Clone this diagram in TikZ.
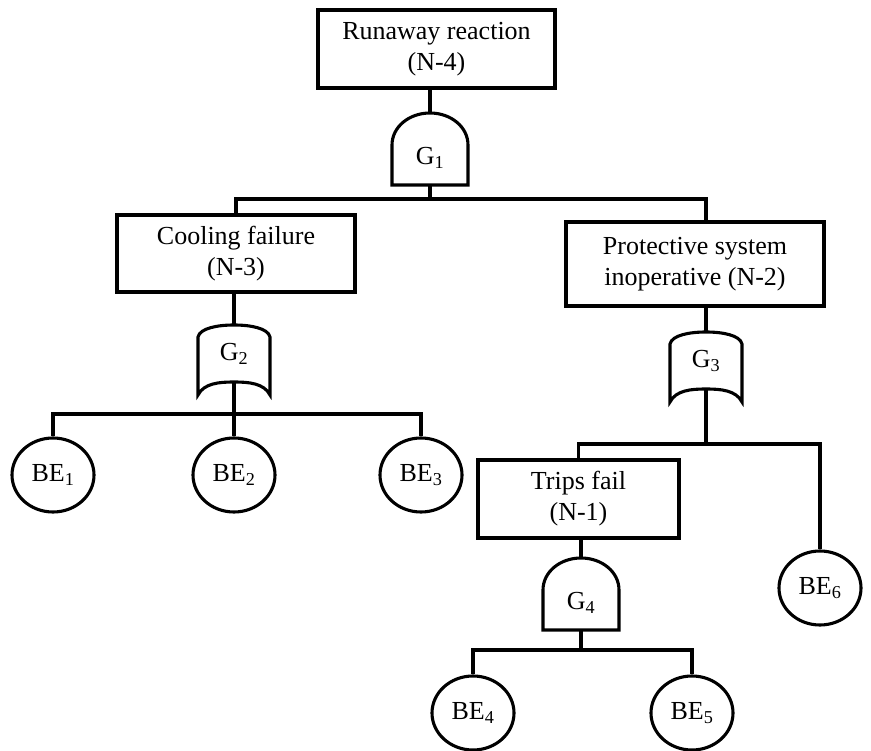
\documentclass[tikz,border=0pt]{standalone}
\usepackage{fontspec}
\setmainfont{Liberation Serif}
\usetikzlibrary{shapes.geometric,calc}
\tikzset{
  ln/.style={line width=3.1pt, line join=miter},
  evbox/.style={ln, draw, rectangle, align=center, inner sep=0pt, font=\fontsize{26}{31}\selectfont},
  bevent/.style={ln, draw, ellipse, inner sep=0pt, minimum width=82pt, minimum height=74pt, font=\fontsize{26}{31}\selectfont},
  glabel/.style={inner sep=0pt, font=\fontsize{26}{31}\selectfont}
}
\newcommand\andgate[4]{% name, cx, ytop, label
  \begin{scope}[shift={(#2,#3)}]
    \draw[ln] (-38,72) -- (-38,32) .. controls (-38,14) and (-21,0) .. (0,0)
      .. controls (21,0) and (38,14) .. (38,32) -- (38,72) -- cycle;
    \coordinate (#1-in) at (0,0);
    \coordinate (#1-out) at (0,72);
    \node[glabel] (#1) at (0,45) {#4};
  \end{scope}}
\newcommand\orgate[4]{% name, cx, ytop, label
  \begin{scope}[shift={(#2,#3)}]
    \draw[ln] (-36,12) .. controls (-34,3) and (-16,0) .. (0,0)
      .. controls (16,0) and (34,3) .. (36,12) -- (36,70)
      .. controls (30,58) and (14,57) .. (0,57)
      .. controls (-14,57) and (-30,58) .. (-36,70) -- cycle;
    \coordinate (#1-in) at (0,0);
    \coordinate (#1-out) at (0,57);
    \node[glabel] (#1) at (0,29) {#4};
  \end{scope}}
\begin{document}
\begin{tikzpicture}[x=1pt,y=-1pt]
\useasboundingbox (0,0) rectangle (871,751);
% event boxes
\node[evbox, minimum width=237pt, minimum height=78pt] (top) at (436.5,49) {Runaway reaction\\(N-4)};
\node[evbox, minimum width=238pt, minimum height=77pt] (cool) at (236,253.5) {Cooling failure\\(N-3)};
\node[evbox, minimum width=258pt, minimum height=84pt] (prot) at (695,264) {Protective system\\inoperative (N-2)};
\node[evbox, minimum width=201pt, minimum height=78pt] (trips) at (578.5,499) {Trips fail\\(N-1)};
% gates
\andgate{g1}{430}{113}{G\textsubscript{1}}
\orgate{g2}{234}{325}{G\textsubscript{2}}
\orgate{g3}{706}{332}{G\textsubscript{3}}
\andgate{g4}{581}{558}{G\textsubscript{4}}
% basic events
\node[bevent] (be1) at (53,475) {BE\textsubscript{1}};
\node[bevent] (be2) at (234,475) {BE\textsubscript{2}};
\node[bevent] (be3) at (421,475) {BE\textsubscript{3}};
\node[bevent] (be6) at (820,588) {BE\textsubscript{6}};
\node[bevent] (be4) at (473,713) {BE\textsubscript{4}};
\node[bevent] (be5) at (692,713) {BE\textsubscript{5}};
% junctions
\coordinate (b1) at (430,199);
\coordinate (b2) at (234,414);
\coordinate (b3) at (706,444);
\coordinate (b4) at (581,650);
% connectors
\draw[ln] (g1-in |- top.south) -- (g1-in);
\draw[ln] (g1-out) -- (b1);
\draw[ln] (cool.north) |- (b1) -| (prot.north -| g3-in);
\draw[ln] (g2-in |- cool.south) -- (g2-in);
\draw[ln] (g2-out) -- (be2.north);
\draw[ln] (be1.north) |- (b2) -| (be3.north);
\draw[ln] (g3-in |- prot.south) -- (g3-in);
\draw[ln] (g3-out) -- (b3);
\draw[ln] (trips.north) |- (b3) -| (be6.north);
\draw[ln] (g4-in |- trips.south) -- (g4-in);
\draw[ln] (g4-out) -- (b4);
\draw[ln] (be4.north) |- (b4) -| (be5.north);
\end{tikzpicture}
\end{document}
